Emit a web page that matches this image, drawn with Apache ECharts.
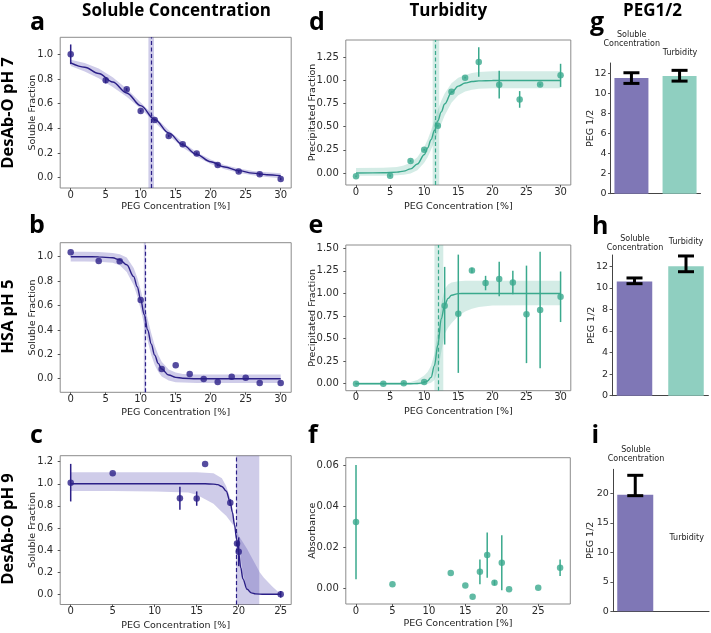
<!DOCTYPE html>
<html><head><meta charset="utf-8">
<script src="https://cdn.jsdelivr.net/npm/echarts@6/dist/echarts.min.js"></script>
<style>html,body{margin:0;padding:0;background:#fff}#c{width:711px;height:633px}</style>
</head><body><div id="c"></div>
<script>
// ---------------- DATA ----------------
// Panel a: DesAb-O pH 7, soluble fraction
const aX = [0,5,8,10,12,14,16,18,21,24,27,30];
const aY = [1.0,0.79,0.716,0.54,0.468,0.338,0.27,0.195,0.103,0.049,0.027,-0.01];
const aErr = [0.08,0.025,0.012,0.01,0.01,0.01,0.01,0.01,0.01,0.01,0.01,0.01];
const aFitX = [0,2,4,6,8,10,12,14,16,18,20,22,24,26,28,30];
const aFitY = [0.930,0.895,0.844,0.775,0.687,0.584,0.472,0.363,0.266,0.188,0.129,0.086,0.057,0.037,0.024,0.015];
const aBandHi = [0.955,0.93,0.885,0.815,0.72,0.61,0.495,0.385,0.287,0.207,0.147,0.103,0.074,0.055,0.043,0.036];
const aBandLo = [0.905,0.86,0.805,0.735,0.655,0.558,0.449,0.341,0.245,0.169,0.111,0.069,0.04,0.02,0.006,-0.005];
const aMid = 11.47, aMidLo = 11.1, aMidHi = 11.9;

// Panel b: HSA pH 5, soluble fraction
const bX = [0,4,7,10,13,15,17,19,21,23,25,27,30];
const bY = [1.036,0.965,0.962,0.645,0.08,0.11,0.038,-0.003,-0.027,0.016,0.008,-0.035,-0.035];
const bFitX = [0,2,4,6,7,8,9,9.5,10,10.5,11,11.5,12,12.5,13,14,15,16,18,20,25,30];
const bFitY = [1.0,1.0,0.999,0.991,0.975,0.934,0.837,0.754,0.648,0.525,0.399,0.285,0.193,0.126,0.079,0.030,0.011,0.004,0.0,0.0,0.0,0.0];
const bBandHi = [1.04,1.04,1.039,1.031,1.02,0.994,0.907,0.829,0.728,0.61,0.489,0.375,0.273,0.196,0.139,0.075,0.051,0.039,0.035,0.035,0.035,0.035];
const bBandLo = [0.96,0.96,0.959,0.951,0.93,0.874,0.767,0.679,0.568,0.44,0.309,0.195,0.113,0.056,0.019,-0.015,-0.029,-0.031,-0.035,-0.035,-0.035,-0.035];
const bMid = 10.6, bMidLo = 10.45, bMidHi = 10.75;

// Panel c: DesAb-O pH 9, soluble fraction
const cX = [0,5,13,15,16,19,19.8,20,25];
const cY = [1.01,1.095,0.869,0.866,1.179,0.829,0.46,0.385,0.0];
const cErr = [0.17,0,0.105,0.065,0,0.03,0,0.13,0.03];
const cFitX = [0,5,10,15,16,17,17.5,18,18.5,19,19.25,19.5,19.75,20,20.25,20.5,21,21.5,22,23,25];
const cFitY = [1.0,1.0,1.0,1.0,1.0,0.997,0.992,0.976,0.935,0.831,0.743,0.63,0.5,0.37,0.24,0.14,0.045,0.013,0.004,0.0,0.0];
const cBandX = [0,5,10,14,15,16,17,18,18.5,19,19.5,19.75,20,20.5,21,21.5,22,22.5,23,24,25];
const cBandA = [1.105,1.105,1.105,1.105,1.105,1.1,1.095,1.05,0.98,0.87,0.65,0.56,0.46,0.19,0.05,0.015,0.0,0.0,0.0,0.0,0.0];
const cBandB = [0.935,0.935,0.93,0.92,0.9,0.86,0.82,0.745,0.71,0.66,0.61,0.58,0.53,0.47,0.41,0.34,0.27,0.2,0.15,0.07,0.0];
const cMid = 19.7, cMidLo = 19.68, cMidHi = 22.45;

// Panel d: DesAb-O pH 7, turbidity
const dX = [0,5,8,10,12,14,16,18,21,24,27,30];
const dY = [-0.036,-0.03,0.13,0.25,0.51,0.878,1.03,1.2,0.954,0.795,0.955,1.055];
const dErr = [0.01,0.01,0.01,0.01,0.01,0.01,0.01,0.16,0.15,0.09,0.01,0.125];
const dFitX = [0,4,6,7,8,9,10,10.5,11,11.5,12,12.5,13,14,15,16,17,18,20,25,30];
const dFitY = [0,0.002,0.009,0.02,0.045,0.097,0.197,0.27,0.359,0.459,0.562,0.66,0.745,0.87,0.939,0.972,0.988,0.995,0.999,1.0,1.0];
const dBandHi = [0.055,0.057,0.065,0.08,0.11,0.17,0.28,0.36,0.46,0.57,0.68,0.78,0.86,0.97,1.03,1.06,1.08,1.09,1.1,1.1,1.1];
const dBandLo = [-0.03,-0.03,-0.025,-0.02,-0.005,0.03,0.11,0.17,0.25,0.34,0.44,0.53,0.62,0.76,0.84,0.88,0.9,0.91,0.915,0.915,0.915];
const dMid = 11.69, dMidLo = 11.24, dMidHi = 12.2;

// Panel e: HSA pH 5, turbidity
const eX = [0,4,7,10,13,15,17,19,21,23,25,27,30];
const eY = [0.0,0.0,0.005,0.02,0.864,0.775,1.255,1.115,1.16,1.12,0.768,0.816,0.963];
const eErr = [0.01,0.01,0.01,0.01,0.43,0.655,0.03,0.08,0.19,0.13,0.54,0.645,0.28];
const eFitX = [0,8,9,10,10.5,11,11.5,12,12.5,13,13.5,14,15,16,20,30];
const eFitY = [0,0.0,0.002,0.012,0.03,0.07,0.2,0.43,0.72,0.87,0.945,0.98,0.998,1,1,1];
const eBandX = [0,8,9,10,10.5,11,11.5,12,12.5,13,13.5,14,15,16,17,18,20,25,30];
const eBandHi = [0.015,0.02,0.04,0.09,0.13,0.2,0.33,0.6,0.88,1.05,1.1,1.12,1.135,1.14,1.14,1.14,1.14,1.14,1.14];
const eBandLo = [-0.01,-0.01,-0.008,-0.005,0.0,0.01,0.04,0.15,0.35,0.55,0.62,0.67,0.75,0.8,0.83,0.85,0.865,0.87,0.87];
const eMid = 12.0, eMidLo = 11.5, eMidHi = 12.8;

// Panel f: DesAb-O pH 9, absorbance
const fX = [0,5,13,15,16,17,18,19,20,21,25,28];
const fY = [0.0323,0.0021,0.0076,0.0016,-0.0039,0.0082,0.0163,0.0029,0.0126,-0.0003,0.0005,0.0102];
const fErr = [0.0277,0,0,0,0,0.006,0.011,0.0012,0.0133,0,0,0.004];

// Panels g, h, i: PEG1/2 bars [soluble, turbidity]
const barCats = ['Soluble\nConcentration','Turbidity'];
const gVal = [11.5, 11.7], gLo = [10.97, 11.2], gHi = [12.03, 12.27];
const hVal = [10.6, 12.0], hLo = [10.39, 11.5], hHi = [10.92, 12.96];
const iVal = [19.75], iLo = [19.6], iHi = [23.05];

// Tick values
const xTicks30 = [0,5,10,15,20,25,30];
const xTicks25 = [0,5,10,15,20,25];
const yTicksAB = [0,0.2,0.4,0.6,0.8,1.0];
const yTicksC = [0,0.2,0.4,0.6,0.8,1.0,1.2];
const yTicksD = [0,0.25,0.5,0.75,1.0,1.25];
const yTicksE = [0,0.25,0.5,0.75,1.0,1.25,1.5];
const yTicksF = [0,0.02,0.04,0.06];
const yTicksGH = [0,2,4,6,8,10,12];
const yTicksI = [0,5,10,15,20];

// ---------------- STYLE / LAYOUT ----------------
const PURPLE = '#2b1f87', TEAL = '#3aa98d';
const PBAND = 'rgba(70,58,170,0.26)', TBAND = 'rgba(58,169,141,0.22)';
const PBAR = '#7f77b6', TBAR = '#8fcfc0';
const FONT = 'DejaVu Sans';

const grids = [
  {left:60.2, top:37.3, width:231, height:150.7},   // a
  {left:60.2, top:242.7, width:231, height:149.6},  // b
  {left:60.2, top:455.7, width:231, height:148.8},  // c
  {left:345.8, top:40, width:225, height:145},      // d
  {left:345.8, top:245, width:225, height:145.7},   // e
  {left:345.8, top:457.7, width:224.5, height:146.3}, // f
  {left:610.5, top:63, width:90, height:130.7},     // g
  {left:612.1, top:255, width:96.3, height:140.7},  // h
  {left:612.9, top:469.3, width:96.1, height:142}   // i
];
const xr = [[-1.5,31.5],[-1.5,31.5],[-1.25,26.25],[-1.5,31.5],[-1.5,31.5],[-1.4,29.4],[-0.435,1.435],[-0.435,1.435],[-0.435,1.435]];
const yr = [[-0.0838,1.138],[-0.1115,1.115],[-0.0923,1.254],[-0.1296,1.437],[-0.0775,1.5365],[-0.00742,0.06354],[0,13],[0,13.05],[0,24.07]];
const xt = [xTicks30,xTicks30,xTicks25,xTicks30,xTicks30,xTicks25];
const yt = [yTicksAB,yTicksAB,yTicksC,yTicksD,yTicksE,yTicksF,yTicksGH,yTicksGH,yTicksI];
const ydec = [1,1,1,2,2,2,0,0,0];

const labelStyle = {fontSize:10, color:'#2a2a2a', fontFamily:FONT};

const gridOpts = grids.map((g,i)=>Object.assign({}, g, i<6 ? {show:true, borderColor:'#8c8c8c', borderWidth:1} : {show:false}));

const xAxes = grids.map((g,i)=>{
  if (i<6) return {gridIndex:i, type:'value', min:xr[i][0], max:xr[i][1],
    splitLine:{show:false}, axisLine:{show:false, onZero:false},
    axisTick:{show:true, length:2.5, lineStyle:{color:'#555'}, customValues:xt[i]},
    axisLabel:Object.assign({customValues:xt[i], margin:2, formatter:v=>String(v)}, labelStyle)};
  return {gridIndex:i, type:'value', min:xr[i][0], max:xr[i][1], splitLine:{show:false},
    axisLine:{show:true, onZero:false, lineStyle:{color:'#444', width:1}}, axisTick:{show:false}, axisLabel:{show:false}};
});
const yAxes = grids.map((g,i)=>({gridIndex:i, type:'value', min:yr[i][0], max:yr[i][1],
  splitLine:{show:false}, axisLine:{show:i>=6, onZero:false, lineStyle:{color:'#444', width:1}},
  axisTick:{show:true, length:2.5, lineStyle:{color:'#555'}, customValues:yt[i]},
  axisLabel:Object.assign({customValues:yt[i], margin:i>=6?4:7, formatter:v=>v.toFixed(ydec[i])}, labelStyle, i>=6?{fontSize:9.5}:{})}));

// ---------------- SERIES BUILDERS ----------------
function bandSeries(gi, xs, lo, hi, color) {
  return {type:'custom', xAxisIndex:gi, yAxisIndex:gi, z:1, silent:true, clip:true,
    data: xs.map((x,k)=>[x, lo[k], hi[k]]), encode:{x:0, y:[1,2]},
    renderItem:(p, api)=>{
      if (p.dataIndex !== 0) return null;
      const pts = [];
      for (let k=0;k<xs.length;k++) pts.push(api.coord([xs[k], hi[k]]));
      for (let k=xs.length-1;k>=0;k--) pts.push(api.coord([xs[k], lo[k]]));
      return {type:'polygon', shape:{points:pts}, style:{fill:color}};
    }};
}
function fitSeries(gi, xs, ys, color, mid, lo, hi, vband) {
  return {type:'line', xAxisIndex:gi, yAxisIndex:gi, z:2, silent:true, showSymbol:false,
    smooth:0.35, smoothMonotone:'x', data: xs.map((x,k)=>[x, ys[k]]),
    lineStyle:{color:color, width:1.4}, itemStyle:{color:color},
    markLine:{silent:true, symbol:['none','none'], label:{show:false},
      lineStyle:{color:color, type:[4,2.5], width:1.2}, data:[{xAxis:mid}]},
    markArea:{silent:true, itemStyle:{color:vband}, data:[[{xAxis:lo},{xAxis:hi}]]}};
}
function errSeries(gi, xs, ys, errs, color) {
  const d = [];
  xs.forEach((x,k)=>{ if (errs[k] > 0) d.push([x, ys[k]-errs[k], ys[k]+errs[k]]); });
  return {type:'custom', xAxisIndex:gi, yAxisIndex:gi, z:3, silent:true, data:d, encode:{x:0, y:[1,2]},
    renderItem:(p, api)=>{
      const a = api.coord([api.value(0), api.value(1)]), b = api.coord([api.value(0), api.value(2)]);
      return {type:'line', shape:{x1:a[0], y1:a[1], x2:b[0], y2:b[1]}, style:{stroke:color, lineWidth:1.5}};
    }};
}
function scatSeries(gi, xs, ys, color) {
  return {type:'scatter', xAxisIndex:gi, yAxisIndex:gi, z:4, silent:true, symbolSize:6.5,
    itemStyle:{color:color}, data: xs.map((x,k)=>[x, ys[k]])};
}
function barSeries(gi, vals, width) {
  const cols = [PBAR, TBAR];
  return {type:'bar', xAxisIndex:gi, yAxisIndex:gi, z:2, silent:true, barWidth:width,
    data: vals.map((v,k)=>({value:[k, v], itemStyle:{color:cols[k]}}))};
}
function barErrSeries(gi, lo, hi) {
  return {type:'custom', xAxisIndex:gi, yAxisIndex:gi, z:3, silent:true,
    data: lo.map((l,k)=>[k, l, hi[k]]), encode:{x:0, y:[1,2]},
    renderItem:(p, api)=>{
      const a = api.coord([api.value(0), api.value(1)]), b = api.coord([api.value(0), api.value(2)]);
      const st = {stroke:'#000', lineWidth:3};
      return {type:'group', children:[
        {type:'line', shape:{x1:a[0], y1:a[1], x2:b[0], y2:b[1]}, style:st},
        {type:'line', shape:{x1:a[0]-8, y1:a[1], x2:a[0]+8, y2:a[1]}, style:st},
        {type:'line', shape:{x1:b[0]-8, y1:b[1], x2:b[0]+8, y2:b[1]}, style:st}]};
    }};
}

const series = [
  bandSeries(0, aFitX, aBandLo, aBandHi, PBAND),
  fitSeries(0, aFitX, aFitY, PURPLE, aMid, aMidLo, aMidHi, PBAND),
  errSeries(0, aX, aY, aErr, PURPLE), scatSeries(0, aX, aY, PURPLE),

  bandSeries(1, bFitX, bBandLo, bBandHi, PBAND),
  fitSeries(1, bFitX, bFitY, PURPLE, bMid, bMidLo, bMidHi, PBAND),
  scatSeries(1, bX, bY, PURPLE),

  bandSeries(2, cBandX, cBandB, cBandA, PBAND),
  fitSeries(2, cFitX, cFitY, PURPLE, cMid, cMidLo, cMidHi, PBAND),
  errSeries(2, cX, cY, cErr, PURPLE), scatSeries(2, cX, cY, PURPLE),

  bandSeries(3, dFitX, dBandLo, dBandHi, TBAND),
  fitSeries(3, dFitX, dFitY, TEAL, dMid, dMidLo, dMidHi, TBAND),
  errSeries(3, dX, dY, dErr, TEAL), scatSeries(3, dX, dY, TEAL),

  bandSeries(4, eBandX, eBandLo, eBandHi, TBAND),
  fitSeries(4, eFitX, eFitY, TEAL, eMid, eMidLo, eMidHi, TBAND),
  errSeries(4, eX, eY, eErr, TEAL), scatSeries(4, eX, eY, TEAL),

  errSeries(5, fX, fY, fErr, TEAL), scatSeries(5, fX, fY, TEAL),

  barSeries(6, gVal, 34), barErrSeries(6, gLo, gHi),
  barSeries(7, hVal, 35.5), barErrSeries(7, hLo, hHi),
  barSeries(8, iVal, 36), barErrSeries(8, iLo, iHi)
];

// ---------------- TEXT ----------------
function T(text, x, y, o) {
  o = o || {};
  return {type:'text', x:x, y:y, rotation:o.rot||0, silent:true, z:10,
    style:{text:text, x:0, y:0, fill:o.color||'#111', fontSize:o.size||10, fontWeight:o.weight||'normal',
      fontFamily:o.family||FONT, align:o.align||'center', verticalAlign:'middle', lineHeight:o.lh||undefined}};
}
const R = Math.PI/2;
const H = {size:17, weight:'bold', family:'Open Sans', color:'#000'};
const L = {size:25, weight:'bold', family:'Open Sans', color:'#000', align:'left'};
const RL = {size:16.5, weight:'bold', family:'Open Sans', color:'#000', rot:R};
const AX = {size:9.5, color:'#222'};
const AXR = {size:9.5, color:'#222', rot:R};
const BL = {size:8, color:'#222', lh:9};
const graphics = [
  T('Soluble Concentration', 176.5, 11.6, H), T('Turbidity', 448.3, 11.6, H), T('PEG1/2', 652.5, 11.6, H),
  T('a', 30, 22.5, L), T('d', 309, 22.5, L), T('g', 590, 22.5, L),
  T('b', 29, 225.8, L), T('e', 308.5, 225.8, L), T('h', 592, 226.5, L),
  T('c', 30, 435.5, L), T('f', 308, 435.5, L), T('i', 591.5, 435.5, L),
  T('DesAb-O pH 7', 8.7, 113, RL), T('HSA pH 5', 8.7, 316.7, RL), T('DesAb-O pH 9', 8.7, 529, RL),
  T('Soluble Fraction', 32.5, 112.6, AXR), T('Soluble Fraction', 32.5, 317.5, AXR), T('Soluble Fraction', 32.5, 530, AXR),
  T('Precipitated Fraction', 312.5, 112.5, AXR), T('Precipitated Fraction', 312.5, 317.8, AXR), T('Absorbance', 312.5, 530.8, AXR),
  T('PEG 1/2', 590.5, 128.3, AXR), T('PEG 1/2', 591.5, 325.3, AXR), T('PEG 1/2', 590.5, 540.3, AXR),
  T('PEG Concentration [%]', 175.7, 207, AX), T('PEG Concentration [%]', 175.7, 412.5, AX), T('PEG Concentration [%]', 175.7, 626, AX),
  T('PEG Concentration [%]', 458.3, 206.7, AX), T('PEG Concentration [%]', 458.3, 411.7, AX), T('PEG Concentration [%]', 458, 623.3, AX),
  T(barCats[0], 631.7, 39.2, BL), T(barCats[1], 680, 53.3, BL),
  T(barCats[0], 635, 243.5, BL), T(barCats[1], 686, 242.3, BL),
  T(barCats[0], 636, 454.7, BL), T(barCats[1], 686.7, 538.3, BL)
];

const chart = echarts.init(document.getElementById('c'), null, {renderer:'canvas'});
chart.setOption({
  animation:false, backgroundColor:'#fff',
  grid:gridOpts, xAxis:xAxes, yAxis:yAxes, series:series, graphic:graphics
});
</script></body></html>
